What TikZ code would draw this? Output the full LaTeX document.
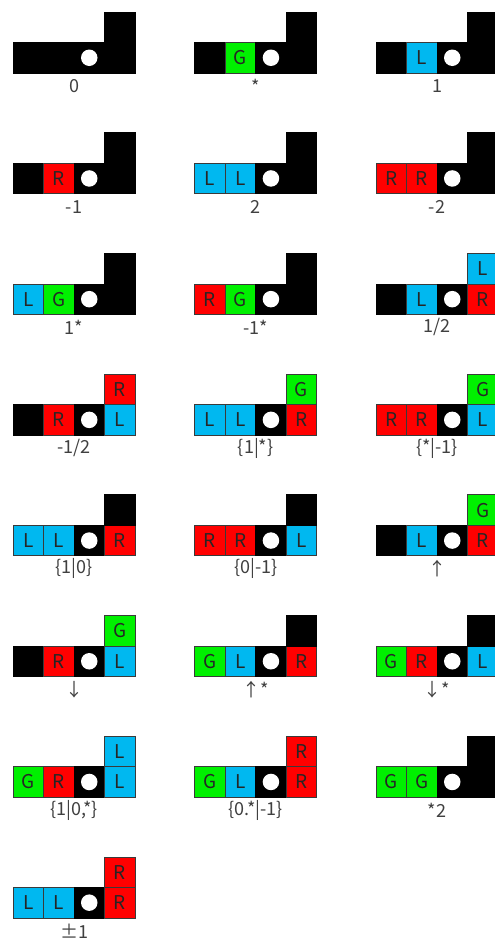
\documentclass[tikz,border=0pt]{standalone}
\usepackage{fontspec}
\setmainfont{Noto Sans CJK JP}
\definecolor{gG}{HTML}{00F000}
\definecolor{gL}{HTML}{00B8F0}
\definecolor{gR}{HTML}{FF0000}
\definecolor{edge}{HTML}{3A3A3A}
\def\cz{30.5}
\def\ltB{}
\def\ltG{G}
\def\ltL{L}
\def\ltR{R}
\tikzset{
  cell/.style={rectangle, minimum size=30.5pt, inner sep=0pt, line width=0.8pt,
    font=\fontsize{19}{22}\selectfont, text=black!85},
  kB/.style={fill=black, draw=black},
  kG/.style={fill=gG, draw=edge},
  kL/.style={fill=gL, draw=edge},
  kR/.style={fill=gR, draw=edge},
  hole/.style={circle, fill=white, draw=none, minimum size=16.5pt, inner sep=0pt},
  lab/.style={font=\fontsize{18}{21}\selectfont, text=black!75, inner sep=0pt}
}
\newcommand\diag[8]{%
  \node[cell,k#4] (#1a) at ({#2+0.5*\cz},{#3+1.5*\cz}) {\csname lt#4\endcsname};
  \node[cell,k#5] (#1b) at ({#2+1.5*\cz},{#3+1.5*\cz}) {\csname lt#5\endcsname};
  \node[cell,kB] (#1c) at ({#2+2.5*\cz},{#3+1.5*\cz}) {};
  \node[cell,k#6] (#1d) at ({#2+3.5*\cz},{#3+1.5*\cz}) {\csname lt#6\endcsname};
  \node[cell,k#7] (#1e) at ({#2+3.5*\cz},{#3+0.5*\cz}) {\csname lt#7\endcsname};
  \node[hole] (#1h) at (#1c.center) {};
  \node[lab] (#1l) at ({#2+2*\cz},{#3+2*\cz+13}) {#8};
}
\begin{document}
\begin{tikzpicture}[x=1pt,y=-1pt]
\useasboundingbox (0,0) rectangle (495,940);
\clip (0,0) rectangle (495,940);
\fill[white] (0,0) rectangle (495,940);
% row 1
\diag{pa}{13}{12}{B}{B}{B}{B}{0}
\diag{pb}{194.7}{12}{B}{G}{B}{B}{*}
\diag{pc}{376}{12}{B}{L}{B}{B}{1}
% row 2
\diag{qa}{13}{132.7}{B}{R}{B}{B}{-1}
\diag{qb}{194.7}{132.7}{L}{L}{B}{B}{2}
\diag{qc}{376}{132.7}{R}{R}{B}{B}{-2}
% row 3
\diag{ra}{13}{253.4}{L}{G}{B}{B}{1*}
\diag{rb}{194.7}{253.4}{R}{G}{B}{B}{-1*}
\diag{rc}{376}{253.4}{B}{L}{R}{L}{1/2}
% row 4
\diag{sa}{13}{374.1}{B}{R}{L}{R}{-1/2}
\diag{sb}{194.7}{374.1}{L}{L}{R}{G}{\{1|*\}}
\diag{sc}{376}{374.1}{R}{R}{L}{G}{\{*|-1\}}
% row 5
\diag{ta}{13}{494.8}{L}{L}{R}{B}{\{1|0\}}
\diag{tb}{194.7}{494.8}{R}{R}{L}{B}{\{0|-1\}}
\diag{tc}{376}{494.8}{B}{L}{R}{G}{↑}
% row 6
\diag{ua}{13}{615.5}{B}{R}{L}{G}{↓}
\diag{ub}{194.7}{615.5}{G}{L}{R}{B}{↑*}
\diag{uc}{376}{615.5}{G}{R}{L}{B}{↓*}
% row 7
\diag{va}{13}{736.2}{G}{R}{L}{L}{\{1|0,*\}}
\diag{vb}{194.7}{736.2}{G}{L}{R}{R}{\{0.*|-1\}}
\diag{vc}{376}{736.2}{G}{G}{B}{B}{*2}
% row 8
\diag{wa}{13}{856.9}{L}{L}{R}{R}{±1}
\end{tikzpicture}
\end{document}
